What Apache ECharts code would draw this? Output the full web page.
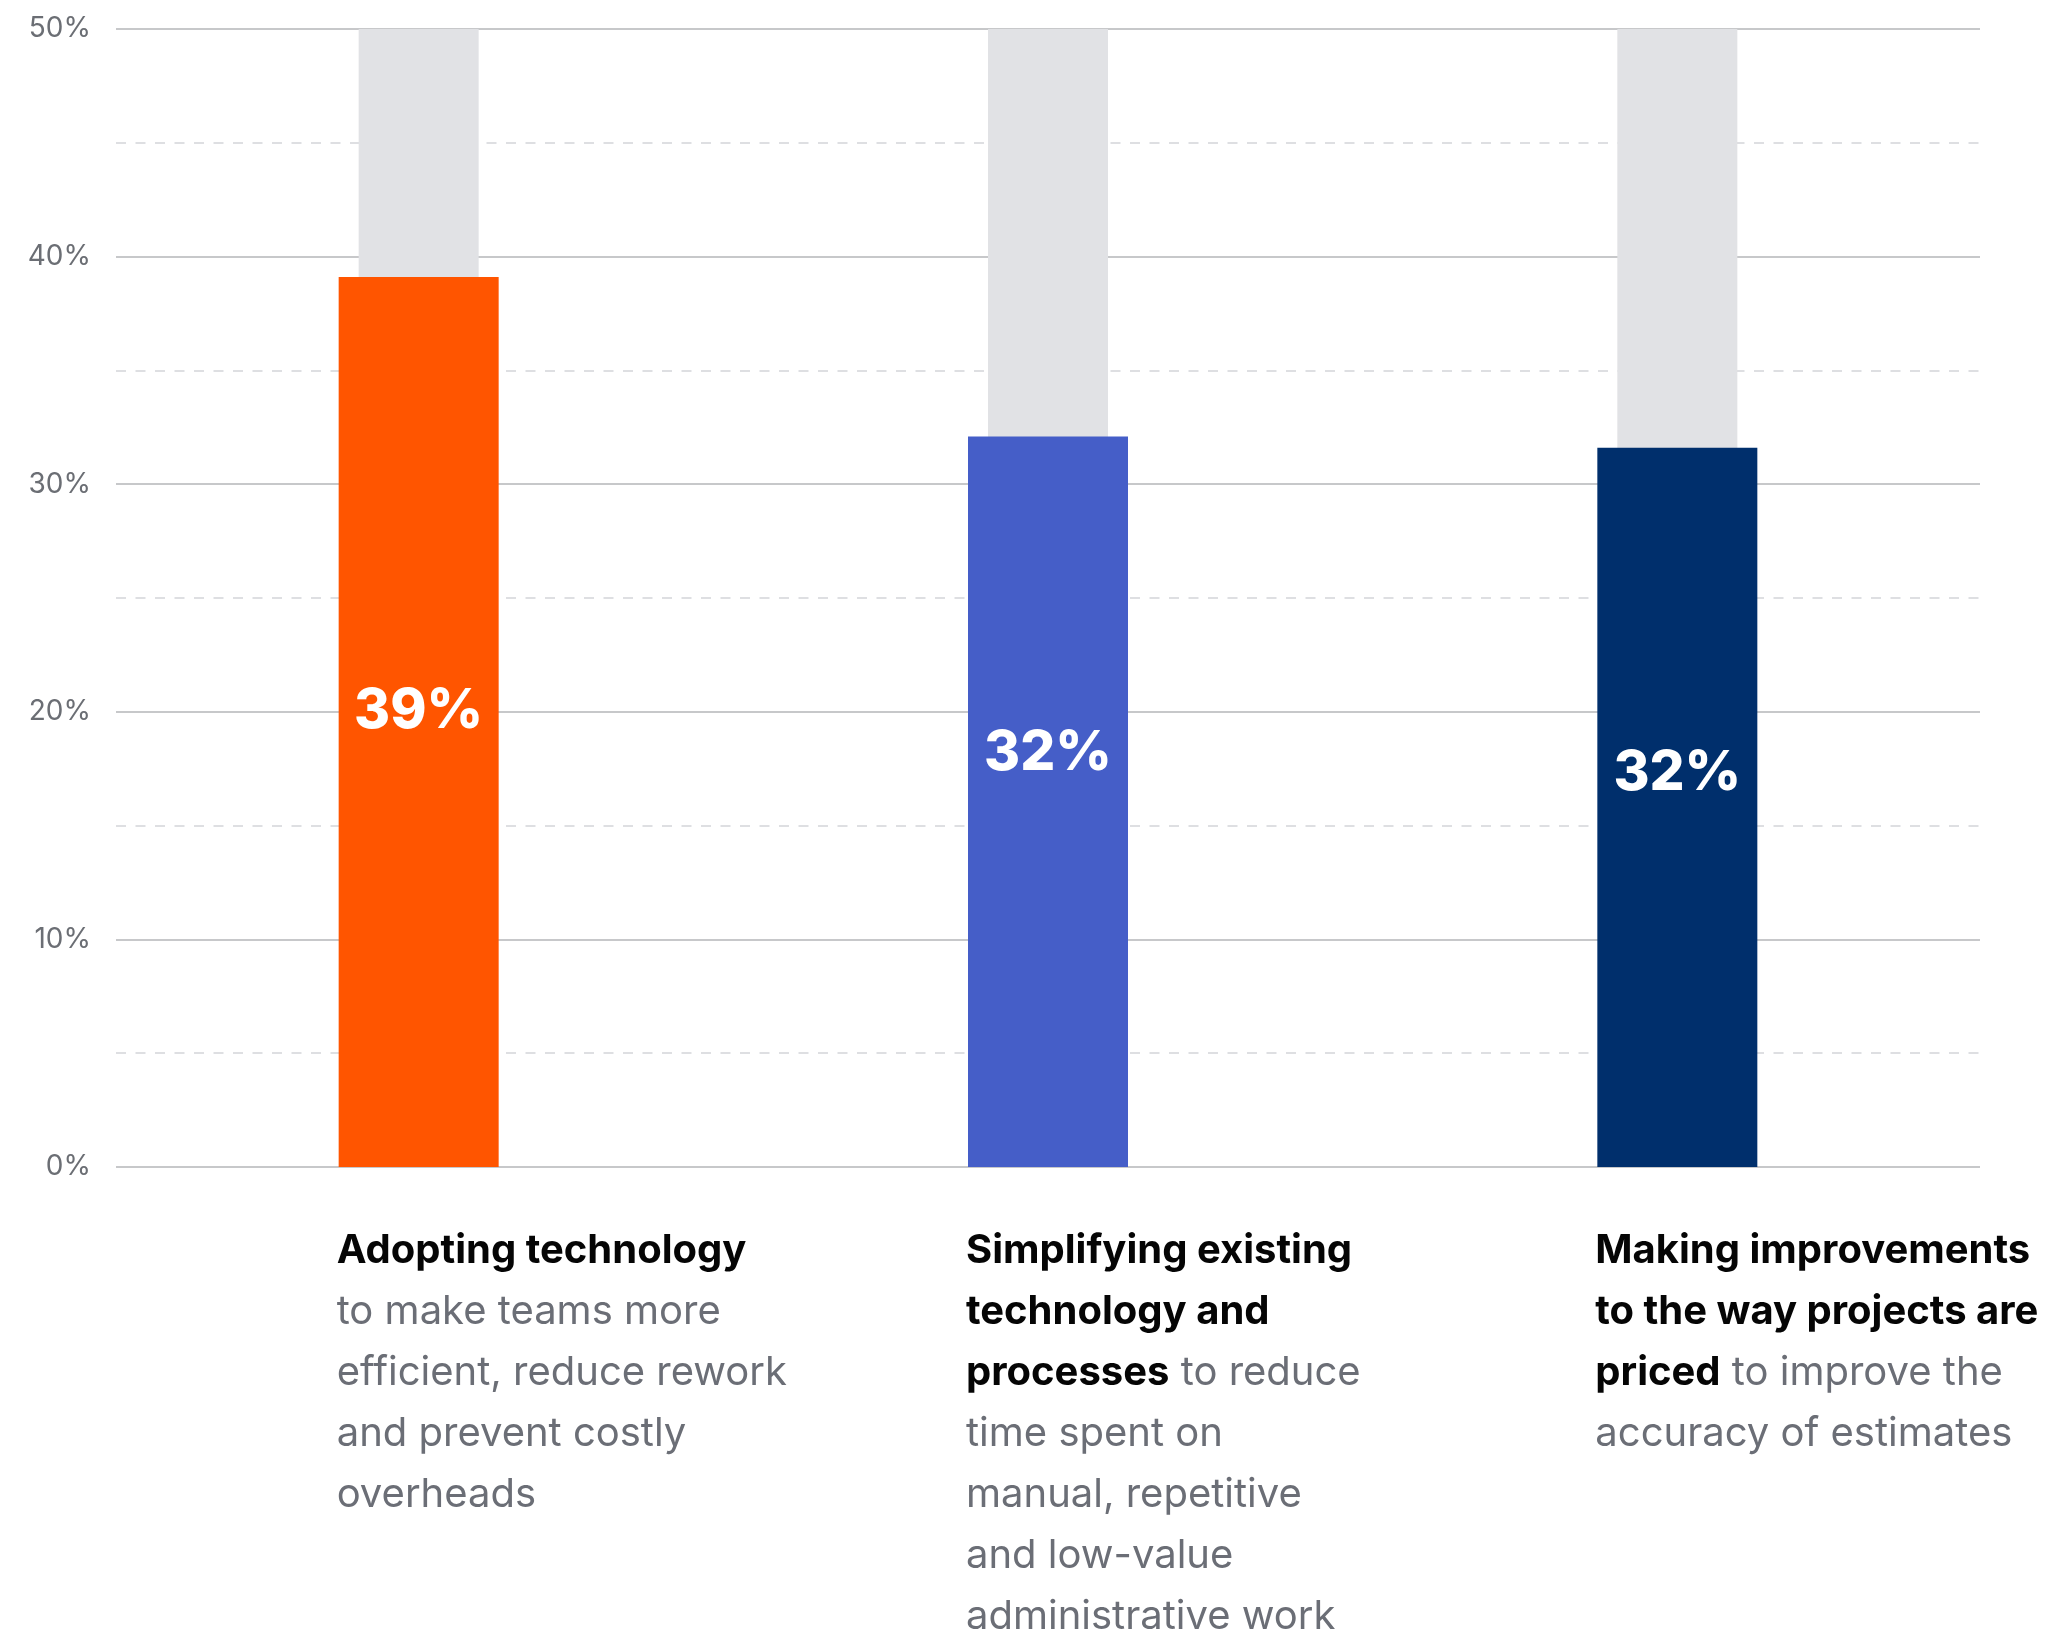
<!DOCTYPE html>
<html>
<head>
<meta charset="utf-8">
<script src="https://cdn.jsdelivr.net/npm/echarts@6/dist/echarts.min.js"></script>
<style>
  html, body { margin: 0; padding: 0; background: #ffffff; }
  #chart { width: 2049px; height: 1635px; }
</style>
</head>
<body>
<div id="chart"></div>
<script>
// Share of respondents naming each priority
const categories = [
  'Adopting technology',
  'Simplifying existing technology and processes',
  'Making improvements to the way projects are priced'
];
const values = [39.1, 32.1, 31.6];
const trackValues = [50, 50, 50];
const barColors = ['#FF5500', '#455EC8', '#002F6C'];

// Category captions, one entry per line ({b|...} bold lead-in, {n|...} description)
const captionLines = [
  ['{b|Adopting technology}', '{n|to make teams more}', '{n|efficient, reduce rework}', '{n|and prevent costly}', '{n|overheads}'],
  ['{b|Simplifying existing}', '{b|technology and}', '{b|processes} {n|to reduce}', '{n|time spent on}', '{n|manual, repetitive}', '{n|and low-value}', '{n|administrative work}'],
  ['{b|Making improvements}', '{b|to the way projects are}', '{b|priced} {n|to improve the}', '{n|accuracy of estimates}']
];

const yMin = 0, yMax = 50, yStep = 10;
// vertical nudge of each value label from the bar's middle
const labelNudge = [-11, -48, -34];

const FONT = 'Inter, "Noto Sans", sans-serif';
const gridTop = 29, gridBottom = 468;

const chart = echarts.init(document.getElementById('chart'), null, { renderer: 'canvas' });

const hiddenValueAxis = (gi) => ({
  type: 'value', gridIndex: gi, min: yMin, max: yMax, interval: yStep, show: false
});
const hiddenCatAxis = (gi) => ({
  type: 'category', gridIndex: gi, data: categories, show: false
});
// fixed-position grid (no automatic shrinking to fit labels)
const fixedGrid = (left, right) => ({
  left, right, top: gridTop, bottom: gridBottom,
  containLabel: false, outerBoundsMode: 'none'
});

chart.setOption({
  animation: false,
  backgroundColor: '#ffffff',
  grid: [
    fixedGrid(116, 69),   // gridlines + y labels
    fixedGrid(104, 57),   // grey tracks
    fixedGrid(104, 57),   // coloured bars
    fixedGrid(22, 139)    // captions (left-aligned to bar edge)
  ],
  xAxis: [
    { type: 'category', gridIndex: 0, data: categories, show: false },
    hiddenCatAxis(1),
    hiddenCatAxis(2),
    {
      type: 'category', gridIndex: 3, data: categories,
      axisLine: { show: false }, axisTick: { show: false }, splitLine: { show: false },
      axisLabel: {
        interval: 0,
        margin: 53,
        align: 'left',
        verticalAlign: 'top',
        fontFamily: FONT,
        fontSize: 40,
        lineHeight: 61,
        color: '#6B6E76',
        formatter: (v, i) => captionLines[i].join('\n'),
        rich: {
          b: { fontFamily: FONT, fontSize: 40, fontWeight: 700, color: '#050505', lineHeight: 61 },
          n: { fontFamily: FONT, fontSize: 40, fontWeight: 400, color: '#6B6E76', lineHeight: 61 }
        }
      }
    }
  ],
  yAxis: [
    {
      type: 'value', gridIndex: 0, min: yMin, max: yMax, interval: yStep,
      axisLine: { show: false }, axisTick: { show: false },
      axisLabel: {
        formatter: '{value}%', margin: 25,
        fontFamily: FONT, fontSize: 28, color: '#6B6E74',
        padding: [6, 0, 0, 0]
      },
      splitLine: { show: true, lineStyle: { color: '#B5B6B8', width: 1.5 } },
      minorTick: { show: false, splitNumber: 2 },
      minorSplitLine: { show: true, lineStyle: { color: '#D3D5D9', width: 1.5, type: [10, 9.5] } }
    },
    hiddenValueAxis(1),
    hiddenValueAxis(2),
    hiddenValueAxis(3)
  ],
  series: [
    {
      type: 'bar', name: 'track', xAxisIndex: 1, yAxisIndex: 1,
      data: trackValues, barWidth: 120, silent: true,
      itemStyle: { color: '#E1E2E5' }, z: 2
    },
    {
      type: 'bar', name: 'share', xAxisIndex: 2, yAxisIndex: 2,
      barWidth: 160, z: 3,
      data: values.map((v, i) => ({
        value: v,
        itemStyle: { color: barColors[i] },
        label: { offset: [0, labelNudge[i]] }
      })),
      label: {
        show: true, position: 'inside',
        formatter: (p) => Math.round(p.value) + '%',
        fontFamily: FONT, fontSize: 55, fontWeight: 800, color: '#ffffff'
      }
    }
  ]
});
</script>
</body>
</html>
